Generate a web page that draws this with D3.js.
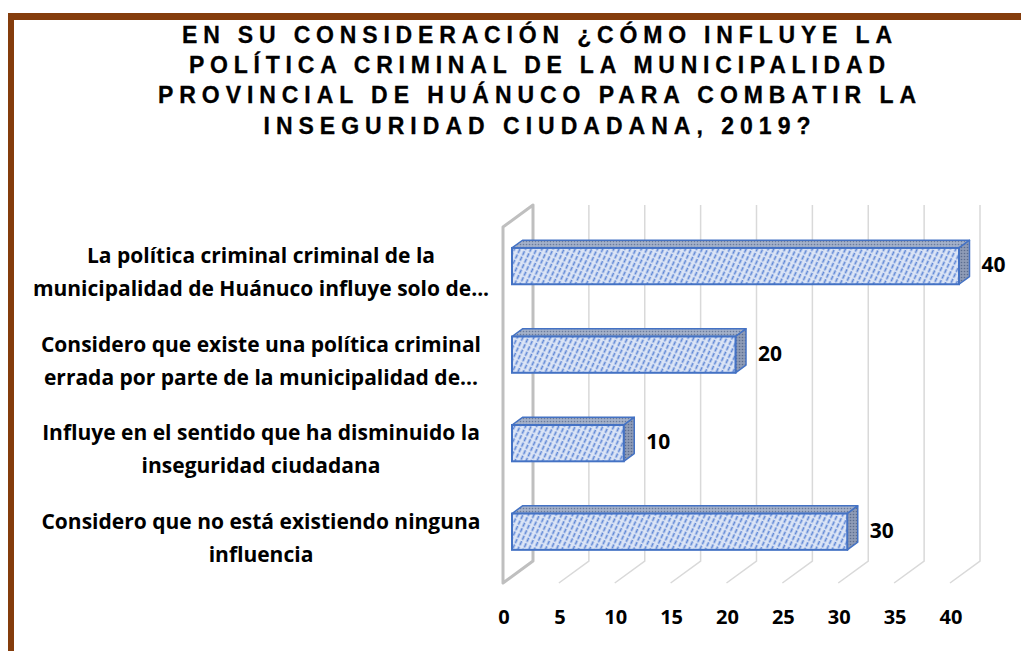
<!DOCTYPE html>
<html lang="es">
<head>
<meta charset="UTF-8">
<title>Política criminal - Huánuco 2019</title>
<script src="https://cdn.jsdelivr.net/npm/d3@7/dist/d3.min.js"></script>
<style>
  body { margin:0; background:#fff; }
  svg { display:block; }
  .title { font-family:"Liberation Sans",Arial,sans-serif; font-weight:bold; font-size:23px; fill:#000; stroke:#000; stroke-width:0.3px; }
  .cat, .tick, .val { font-family:"Open Sans",Lato,sans-serif; font-weight:bold; fill:#000; }
  .cat { font-size:21px; }
  .tick { font-size:20px; }
  .val { font-size:21px; }
</style>
</head>
<body>
<div id="chart"></div>
<script>
// data
var categories = [
  "La política criminal criminal de la\nmunicipalidad de Huánuco influye solo de...",
  "Considero que existe una política criminal\nerrada por parte de la municipalidad de...",
  "Influye en el sentido que ha disminuido la\ninseguridad ciudadana",
  "Considero que no está existiendo ninguna\ninfluencia"
];
var values = [40, 20, 10, 30];
var tickValues = [0, 5, 10, 15, 20, 25, 30, 35, 40];
var titleLines = [
  "EN SU CONSIDERACIÓN ¿CÓMO INFLUYE LA",
  "POLÍTICA CRIMINAL DE LA MUNICIPALIDAD",
  "PROVINCIAL DE HUÁNUCO PARA COMBATIR LA",
  "INSEGURIDAD CIUDADANA, 2019?"
];
var titleWidths = [710, 696, 758, 547];

var W = 1021, H = 651;
var svg = d3.select("#chart").append("svg").attr("width", W).attr("height", H);

var defs = svg.append("defs");
// front face hatch
var pf = defs.append("pattern").attr("id", "hatchFront")
  .attr("patternUnits", "userSpaceOnUse").attr("width", 5).attr("height", 6)
  .attr("patternTransform", "rotate(25)");
pf.append("rect").attr("width", 5).attr("height", 6).attr("fill", "#dce5f6");
pf.append("line").attr("x1", 1.5).attr("y1", 0).attr("x2", 1.5).attr("y2", 6)
  .attr("stroke", "#5f87d6").attr("stroke-width", 1.7).attr("stroke-dasharray", "4.5,1.5");
// top / side faces dotted
function dotPattern(id, bg, fg) {
  var p = defs.append("pattern").attr("id", id)
    .attr("patternUnits", "userSpaceOnUse").attr("width", 3).attr("height", 3);
  p.append("rect").attr("width", 3).attr("height", 3).attr("fill", bg);
  p.append("circle").attr("cx", 1.5).attr("cy", 1.5).attr("r", 0.8).attr("fill", fg);
}
dotPattern("dotTop", "#a3b0c9", "#6a7b9c");
dotPattern("dotSide", "#8e9bb6", "#5c6d8f");

// frame
svg.append("rect").attr("x", 8).attr("y", 13).attr("width", W - 8).attr("height", 7).attr("fill", "#843c0c");
svg.append("rect").attr("x", 8).attr("y", 13).attr("width", 6).attr("height", H - 13).attr("fill", "#843c0c");

// title, spacing fitted per line
svg.append("g").selectAll("text").data(titleLines).enter().append("text")
  .attr("class", "title")
  .attr("x", 537)
  .attr("y", function(d, i) { return 43 + i * 30.2; })
  .attr("text-anchor", "middle")
  .attr("textLength", function(d, i) { return titleWidths[i]; })
  .attr("lengthAdjust", "spacing")
  .text(function(d) { return d; });

// scales (front plane) + depth projection
var x = d3.scaleLinear().domain([0, 40]).range([503, 950]);
var y = d3.scaleBand().domain(categories).range([228, 583]).paddingInner(0.59).paddingOuter(0.3);
var depth = { dx: 30, dy: -22 };
function px(v, z) { return v + depth.dx * z; }
function py(v, z) { return v + depth.dy * z; }
var floorY = 583, topY = 227;
var z0 = 0.3, z1 = 0.65;

// gridlines on back wall and floor
svg.append("g").selectAll("path").data(tickValues).enter().append("path")
  .attr("d", function(t) {
    return "M" + px(x(t), 1) + "," + py(topY, 1) +
           "L" + px(x(t), 1) + "," + py(floorY, 1) +
           "L" + x(t) + "," + floorY;
  })
  .attr("fill", "none").attr("stroke", "#d9d9d9").attr("stroke-width", 1.5);

// left side wall
svg.append("polygon")
  .attr("points", [[x(0), topY], [px(x(0), 1), py(topY, 1)], [px(x(0), 1), py(floorY, 1)], [x(0), floorY]].join(" "))
  .attr("fill", "none").attr("stroke", "#bfbfbf").attr("stroke-width", 3).attr("stroke-linejoin", "round");

// bars
var bars = svg.append("g").selectAll("g").data(values).enter().append("g");
function pts(a) { return a.map(function(p) { return p.join(","); }).join(" "); }

bars.append("polygon").attr("points", function(v, i) {
  var x0 = x(0), xv = x(v), yt = y(categories[i]);
  return pts([[px(x0, z0), py(yt, z0)], [px(x0, z1), py(yt, z1)], [px(xv, z1), py(yt, z1)], [px(xv, z0), py(yt, z0)]]);
}).attr("fill", "url(#dotTop)").attr("stroke", "#4472c4").attr("stroke-width", 1.5).attr("stroke-linejoin", "round");

bars.append("polygon").attr("points", function(v, i) {
  var xv = x(v), yt = y(categories[i]), yb = yt + y.bandwidth();
  return pts([[px(xv, z0), py(yt, z0)], [px(xv, z1), py(yt, z1)], [px(xv, z1), py(yb, z1)], [px(xv, z0), py(yb, z0)]]);
}).attr("fill", "url(#dotSide)").attr("stroke", "#4472c4").attr("stroke-width", 1.5).attr("stroke-linejoin", "round");

bars.append("rect")
  .attr("x", px(x(0), z0))
  .attr("y", function(v, i) { return py(y(categories[i]), z0); })
  .attr("width", function(v) { return x(v) - x(0); })
  .attr("height", y.bandwidth())
  .attr("fill", "url(#hatchFront)").attr("stroke", "#4472c4").attr("stroke-width", 2);

// value labels
bars.append("text").attr("class", "val")
  .attr("x", function(v) { return px(x(v), z1) + 12; })
  .attr("y", function(v, i) { return py(y(categories[i]) + y.bandwidth() / 2, z0) - 2; })
  .attr("dominant-baseline", "central")
  .text(function(v) { return v; });

// x tick labels
svg.append("g").selectAll("text").data(tickValues).enter().append("text")
  .attr("class", "tick")
  .attr("x", function(t) { return x(t) + 1; })
  .attr("y", 624)
  .attr("text-anchor", "middle")
  .text(function(t) { return t; });

// category labels
var cats = svg.append("g").selectAll("text").data(categories).enter().append("text")
  .attr("class", "cat")
  .attr("text-anchor", "middle")
  .attr("x", 261)
  .attr("y", function(d) { return y(d) + y.bandwidth() / 2; });
cats.each(function(d) {
  var lines = d.split("\n"), t = d3.select(this);
  lines.forEach(function(l, j) {
    t.append("tspan").attr("x", 261)
      .attr("dy", j === 0 ? (-(lines.length - 1) * 16.5 + 7) + "px" : "33px")
      .text(l);
  });
});
</script>
</body>
</html>
